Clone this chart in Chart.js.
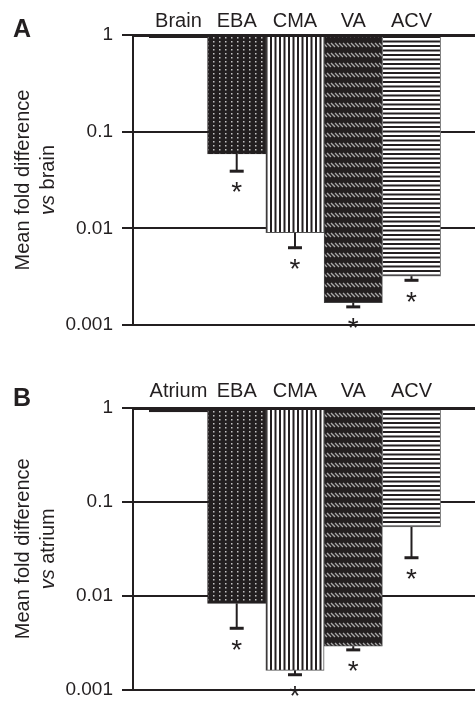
<!DOCTYPE html>
<html>
<head>
<meta charset="utf-8">
<script src="https://cdn.jsdelivr.net/npm/chart.js@4.4.1/dist/chart.umd.min.js"></script>
<style>
  html, body { margin: 0; padding: 0; background: #fff; }
  body { width: 475px; height: 701px; overflow: hidden; position: relative; }
  canvas { position: absolute; left: 0; }
  #chartA { top: 0; }
  #chartB { top: 350px; }
</style>
</head>
<body>
<canvas id="chartA" width="475" height="350"></canvas>
<canvas id="chartB" width="475" height="360"></canvas>
<script>
// ---- data ----
const labelsA = ['Brain', 'EBA', 'CMA', 'VA', 'ACV'];
const meansA  = [0.94, 0.059, 0.0090, 0.0017, 0.0032];
const lowsA   = [null, 0.039, 0.0063, 0.00154, 0.0029];

const labelsB = ['Atrium', 'EBA', 'CMA', 'VA', 'ACV'];
const meansB  = [0.91, 0.0083, 0.0016, 0.0029, 0.054];
const lowsB   = [null, 0.0045, 0.00144, 0.00265, 0.0254];

const yTicks = [0.001, 0.01, 0.1, 1];

const INK = '#231f20';
const FONT = '"Liberation Sans", Arial, Helvetica, sans-serif';

// ---- fill patterns ----
function makePattern(w, h, draw) {
  const c = document.createElement('canvas');
  c.width = w; c.height = h;
  const g = c.getContext('2d');
  draw(g, w, h);
  return g.createPattern(c, 'repeat');
}

const dots = makePattern(6, 4, (g, w, h) => {
  g.fillStyle = INK; g.fillRect(0, 0, w, h);
  g.fillStyle = '#c4c4c4'; g.fillRect(3, 1, 1.5, 1.5);
});
const vStripes = makePattern(9, 2, (g, w, h) => {
  g.fillStyle = '#fff'; g.fillRect(0, 0, w, h);
  g.fillStyle = INK; g.fillRect(0, 0, 2, h); g.fillRect(4.5, 0, 2, h);
});
const hatch = makePattern(4, 10, (g, w, h) => {
  g.fillStyle = INK; g.fillRect(0, 0, w, h);
  g.strokeStyle = '#a8a8a8'; g.lineWidth = 1.3;
  g.beginPath();
  g.moveTo(-1, 3); g.lineTo(3, 7);
  g.moveTo(3, 3); g.lineTo(7, 7);
  g.stroke();
});
const hStripes = makePattern(2, 9, (g, w, h) => {
  g.fillStyle = '#fff'; g.fillRect(0, 0, w, h);
  g.fillStyle = INK; g.fillRect(0, 0, w, 2); g.fillRect(0, 4.5, w, 2);
});

const fills = [INK, dots, vStripes, hatch, hStripes];
const edges = [INK, INK, '#555', '#444', '#777'];

// ---- error bars + asterisks ----
const errorBars = {
  id: 'errorBars',
  afterDatasetsDraw(chart, args, opts) {
    const { ctx, scales: { x, y } } = chart;
    const size = 28;
    ctx.save();
    ctx.strokeStyle = INK;
    ctx.fillStyle = INK;
    ctx.font = size + 'px ' + FONT;
    ctx.textAlign = 'center';
    ctx.textBaseline = 'alphabetic';
    opts.means.forEach((m, i) => {
      const lo = opts.lows[i];
      if (lo == null) return;
      const cx = x.getPixelForValue(i);
      const top = y.getPixelForValue(m);
      const bot = y.getPixelForValue(lo);
      ctx.lineWidth = 2;
      ctx.beginPath();
      ctx.moveTo(cx, top); ctx.lineTo(cx, bot);
      ctx.stroke();
      ctx.lineWidth = 3;
      ctx.beginPath();
      ctx.moveTo(cx - 7, bot); ctx.lineTo(cx + 7, bot);
      ctx.stroke();
      ctx.fillText('*', cx, bot + 14 + 0.58 * size);
    });
    ctx.restore();
  }
};

// ---- y title (mixed italic) and panel letter ----
const sideText = {
  id: 'sideText',
  afterDraw(chart, args, opts) {
    const { ctx, chartArea } = chart;
    const cy = (chartArea.top + chartArea.bottom) / 2;
    const up = '20px ' + FONT, it = 'italic 20px ' + FONT;
    ctx.save();
    ctx.fillStyle = INK;
    ctx.textBaseline = 'middle';

    ctx.save();
    ctx.translate(23, cy); ctx.rotate(-Math.PI / 2);
    ctx.font = up; ctx.textAlign = 'center';
    ctx.fillText('Mean fold difference', 0, 0);
    ctx.restore();

    ctx.save();
    ctx.translate(48, cy); ctx.rotate(-Math.PI / 2);
    ctx.font = it; const w1 = ctx.measureText('vs ').width;
    ctx.font = up; const w2 = ctx.measureText(opts.ref).width;
    const sx = -(w1 + w2) / 2;
    ctx.textAlign = 'left';
    ctx.font = it; ctx.fillText('vs ', sx, 0);
    ctx.font = up; ctx.fillText(opts.ref, sx + w1, 0);
    ctx.restore();

    ctx.font = 'bold 25px ' + FONT;
    ctx.textAlign = 'center';
    ctx.fillText(opts.letter, 22, opts.letterY);
    ctx.restore();
  }
};

function buildChart(id, labels, means, lows, ref, letter, geo) {
  return new Chart(document.getElementById(id), {
    type: 'bar',
    data: {
      datasets: [{
        data: means.map((m, i) => ({ x: i, y: [m, 1] })),
        backgroundColor: fills,
        borderColor: edges,
        borderWidth: 1,
        borderSkipped: false,
        barPercentage: 1,
        categoryPercentage: 1,
      }],
    },
    options: {
      responsive: false,
      animation: false,
      layout: { padding: { bottom: geo.bottom } },
      plugins: {
        legend: { display: false },
        tooltip: { enabled: false },
        errorBars: { means, lows },
        sideText: { ref, letter, letterY: geo.letterY },
      },
      scales: {
        x: {
          type: 'linear',
          position: 'top',
          min: -0.78, max: 5.09,
          offset: false,
          grid: { display: false, drawTicks: false },
          border: { display: true, color: INK, width: 3, z: 1 },
          ticks: {
            autoSkip: false, maxRotation: 0,
            padding: geo.labelPad,
            color: INK,
            font: { family: FONT, size: 20 },
            callback: v => labels[v] ?? '',
          },
          afterBuildTicks: s => { s.ticks = labels.map((_, i) => ({ value: i })); },
          afterFit: s => { s.height = geo.top; },
        },
        y: {
          type: 'logarithmic',
          min: 0.001, max: 1,
          grid: { color: INK, lineWidth: 2, tickLength: 11, drawTicks: true },
          border: { color: INK, width: 2 },
          ticks: {
            padding: 9,
            color: INK,
            font: { family: FONT, size: 19 },
            callback: v => String(v),
          },
          afterBuildTicks: s => { s.ticks = yTicks.map(v => ({ value: v })); },
          afterFit: s => { s.width = 133; },
        },
      },
    },
    plugins: [errorBars, sideText],
  });
}

buildChart('chartA', labelsA, meansA, lowsA, 'brain', 'A',
  { top: 35, bottom: 25, labelPad: 2, letterY: 30 });
buildChart('chartB', labelsB, meansB, lowsB, 'atrium', 'B',
  { top: 58, bottom: 18, labelPad: 5, letterY: 49 });
</script>
</body>
</html>
